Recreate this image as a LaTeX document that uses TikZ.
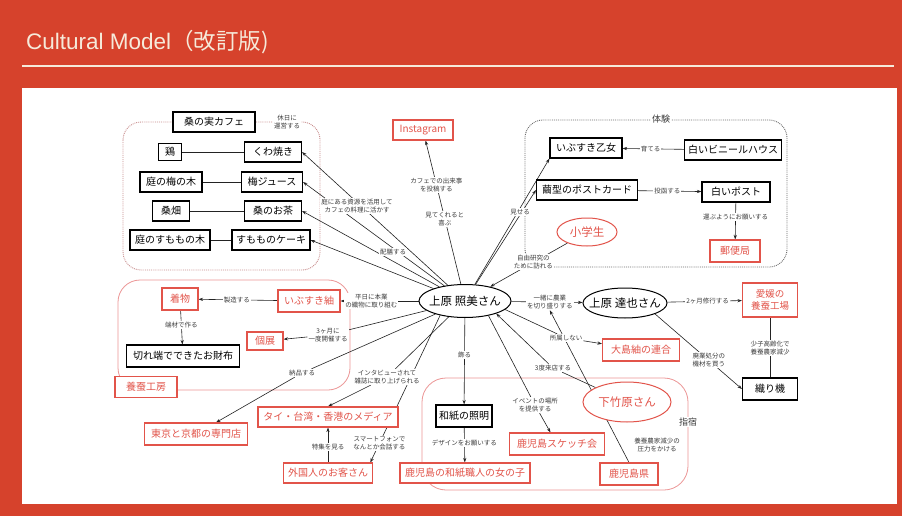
\documentclass[tikz,border=0pt]{standalone}
\usepackage{fontspec}
\setmainfont{Noto Sans CJK JP}
\newfontfamily\titlefont{Liberation Sans}
\usetikzlibrary{arrows.meta,shapes.geometric,calc}
\pgfdeclarelayer{bg}
\pgfdeclarelayer{lines}
\pgfsetlayers{bg,lines,main}
\definecolor{slide}{RGB}{214,66,44}
\definecolor{cream}{RGB}{246,234,218}
\definecolor{redc}{RGB}{226,84,74}
\definecolor{linec}{RGB}{35,35,35}
\definecolor{lblc}{RGB}{60,60,60}
\definecolor{grpgray}{RGB}{110,110,110}
\definecolor{grpcafe}{RGB}{200,140,140}
\definecolor{grppink}{RGB}{236,150,150}

\begin{document}
\begin{tikzpicture}[x=1pt,y=-1pt,
  bbox/.style={draw=black,line width=1.1pt,fill=white,inner xsep=3pt,inner ysep=2pt,minimum height=20pt,font=\fontsize{10}{12}\selectfont},
  rbox/.style={bbox,draw=redc,text=redc},
  oval/.style={ellipse,draw=black,line width=1pt,fill=white,inner sep=0pt},
  roval/.style={oval,draw=redc},
  lbl/.style={fill=white,inner sep=1pt,align=center,text=lblc,font=\fontsize{6.5}{8}\selectfont},
  conn/.style={draw=linec,line width=0.6pt},
  arr/.style={conn,-{Stealth[length=4.5pt,width=3.2pt]}},
  grp/.style={densely dotted,line width=0.9pt,rounded corners=18pt},
  ovaltext/.style={font=\fontsize{11.5}{13}\selectfont},
]
\useasboundingbox (0,0) rectangle (902,516);

% title
\node[anchor=base west,inner sep=0pt,text=cream,font=\fontsize{22.5}{26}\selectfont] (title) at (26,50) {{\titlefont Cultural Model}（改訂版)};

% cafe group
\node[bbox,minimum width=82pt] (cafe) at (214,122) {桑の実カフェ};
\node[bbox,minimum width=23pt,minimum height=17pt] (tori) at (170,152) {鶏};
\node[bbox,minimum width=57pt] (kuwayaki) at (273,152) {くわ焼き};
\node[bbox,minimum width=62pt] (ume) at (171,182) {庭の梅の木};
\node[bbox,minimum width=61pt] (umejuice) at (272,182) {梅ジュース};
\node[bbox,minimum width=37pt] (kuwabatake) at (171,211) {桑畑};
\node[bbox,minimum width=57pt] (kuwacha) at (273,211) {桑のお茶};
\node[bbox,minimum width=80pt] (sumomo) at (170,240) {庭のすももの木};
\node[bbox,minimum width=78pt] (cake) at (271,240) {すもものケーキ};

\node[rbox,minimum width=60pt] (insta) at (423,130) {Instagram};

% people
\node[oval,minimum width=92pt,minimum height=33pt,label={[ovaltext]center:上原 照美さん}] (terumi) at (465,301) {};
\node[oval,minimum width=84pt,minimum height=30pt,label={[ovaltext]center:上原 達也さん}] (tatsuya) at (625,303) {};
\node[roval,minimum width=88pt,minimum height=40pt,label={[ovaltext,text=redc]center:下竹原さん}] (shimo) at (627,402) {};
\node[roval,minimum width=60pt,minimum height=28pt,label={[ovaltext,text=redc]center:小学生}] (shogaku) at (587,232) {};

% experience group
\node[bbox,minimum width=72pt] (otome) at (586,148) {いぶすき乙女};
\node[bbox,minimum width=97pt] (house) at (733,150) {白いビニールハウス};
\node[bbox,minimum width=101pt] (card) at (587,190) {繭型のポストカード};
\node[bbox,minimum width=68pt] (post) at (736,192) {白いポスト};
\node[rbox,minimum width=50pt,minimum height=22pt] (yubin) at (735,251) {郵便局};

% right side
\node[rbox,minimum width=55pt,minimum height=34pt,align=center,font=\fontsize{9.5}{12}\selectfont] (ehime) at (770,300) {愛媛の\\養蚕工場};
\node[bbox,minimum width=55pt,minimum height=22pt] (oriki) at (770,389) {織り機};
\node[rbox,minimum width=77pt,minimum height=22pt] (oshima) at (641,350) {大島紬の連合};

% workshop group
\node[rbox,minimum width=36pt,minimum height=22pt] (kimono) at (180,299) {着物};
\node[rbox,minimum width=62pt,minimum height=22pt] (tsumugi) at (309,301) {いぶすき紬};
\node[bbox,minimum width=113pt,minimum height=22pt] (saifu) at (183,356) {切れ端でできたお財布};
\node[rbox,minimum width=36pt,minimum height=18pt] (koten) at (265,341) {個展};
\node[rbox,minimum width=62pt,minimum height=21pt] (kobo) at (146,387) {養蚕工房};

% lower left
\node[rbox,minimum width=103pt,minimum height=22pt] (senmon) at (196,434) {東京と京都の専門店};
\node[rbox,minimum width=140pt] (media) at (328,417) {タイ・台湾・香港のメディア};
\node[rbox,minimum width=89pt] (okyaku) at (328,473) {外国人のお客さん};

% Ibusuki group
\node[bbox,minimum width=56pt,minimum height=22pt] (washi) at (464,416) {和紙の照明};
\node[rbox,minimum width=130pt] (shokunin) at (465,473) {鹿児島の和紙職人の女の子};
\node[rbox,minimum width=95pt,minimum height=22pt] (sketch) at (557,444) {鹿児島スケッチ会};
\node[rbox,minimum width=58pt,minimum height=22pt] (kenchou) at (629,474) {鹿児島県};

% group titles
\node[lbl,font=\fontsize{9}{10}\selectfont] (taiken) at (661,119) {体験};
\node[lbl,font=\fontsize{9}{10}\selectfont] (ibusuki) at (688,422) {指宿};

% connector labels
\node[lbl] (l_kyujitsu) at (287,122) {休日に\\運営する};
\node[lbl] (l_niwa) at (357,206) {庭にある資源を活用して\\カフェの料理に活かす};
\node[lbl] (l_haizen) at (393,252) {配膳する};
\node[lbl] (l_insta1) at ($(terumi)!0.68!(insta)$) {カフェでの出来事\\を投稿する};
\node[lbl] (l_insta2) at ($(terumi)!0.48!(insta)$) {見てくれると\\喜ぶ};
\node[lbl] (l_miseru) at (520,212) {見せる};
\node[lbl] (l_jiyu) at ($(shogaku)!0.44!(terumi)$) {自由研究の\\ために訪れる};
\node[lbl] (l_sodateru) at ($(house)!0.56!(otome)$) {育てる};
\node[lbl] (l_toukan) at ($(card)!0.54!(post)$) {投函する};
\node[lbl] (l_hakobu) at ($(post)!0.42!(yubin)$) {運ぶようにお願いする};
\node[lbl] (l_issho) at ($(terumi)!0.53!(tatsuya)$) {一緒に農業\\を切り盛りする};
\node[lbl] (l_shugyo) at ($(tatsuya)!0.57!(ehime)$) {2ヶ月修行する};
\node[lbl] (l_shoshi) at ($(ehime)!0.54!(oriki)$) {少子高齢化で\\養蚕農家減少};
\node[lbl] (l_haigyo) at ($(tatsuya.south east)!0.62!(oriki.west)$) {廃業処分の\\機材を買う};
\node[lbl] (l_shozoku) at (566,338) {所属しない};
\node[lbl] (l_sando) at (553,368) {3度来店する};
\node[lbl] (l_event) at (535,405) {イベントの場所\\を提供する};
\node[lbl] (l_atsu) at (657,445) {養蚕農家減少の\\圧力をかける};
\node[lbl] (l_kazaru) at ($(terumi)!0.47!(washi)$) {飾る};
\node[lbl] (l_design) at ($(washi)!0.47!(shokunin)$) {デザインをお願いする};
\node[lbl] (l_heijitsu) at ($(terumi)!0.6!(tsumugi)$) {平日に本業\\の織物に取り組む};
\node[lbl] (l_seizo) at ($(tsumugi)!0.56!(kimono)$) {製造する};
\node[lbl] (l_hazai) at ($(kimono)!0.46!(saifu)$) {端材で作る};
\node[lbl] (l_kaisai) at (328,335) {3ヶ月に\\一度開催する};
\node[lbl] (l_nohin) at (302,373) {納品する};
\node[lbl] (l_interview) at (387,377) {インタビューされて\\雑誌に取り上げられる};
\node[lbl] (l_tokushu) at ($(okyaku.north)!0.45!(media.south)$) {特集を見る};
\node[lbl] (l_smart) at ($(terumi.-150)!0.87!(okyaku.14)$) {スマートフォンで\\なんとか会話する};

% connectors
\begin{pgfonlayer}{lines}
\draw[conn] (tori) -- (kuwayaki);
\draw[conn] (ume) -- (umejuice);
\draw[conn] (kuwabatake) -- (kuwacha);
\draw[conn] (sumomo) -- (cake);
\draw[arr] (terumi) -- (kuwayaki.east);
\draw[arr] (terumi) -- (umejuice.east);
\draw[arr] (terumi) -- (kuwacha.east);
\draw[arr] (terumi) -- (cake.east);
\draw[arr] (terumi) -- (insta);
\draw[arr] (terumi) -- (otome.south west);
\draw[arr] (terumi) -- (card.west);
\draw[arr] (shogaku) -- (terumi);
\draw[arr] (house) -- (otome);
\draw[arr] (card) -- (post);
\draw[arr] (post) -- (yubin);
\draw[arr] (terumi) -- (tatsuya);
\draw[arr] (tatsuya) -- (ehime);
\draw[conn] (ehime) -- (oriki);
\draw[arr] (tatsuya.south east) -- (oriki.west);
\draw[conn] (terumi.-12) -- (l_shozoku);
\draw[arr] (l_shozoku) -- (oshima);
\draw[conn] (shimo) -- (l_sando);
\draw[arr] (l_sando) -- (terumi.-22);
\draw[conn] (terumi.-32) -- (l_event);
\draw[arr] (l_event) -- (sketch);
\draw[arr] (kenchou.north) -- (l_issho.south);
\draw[arr] (terumi) -- (washi);
\draw[arr] (washi) -- (shokunin);
\draw[arr] (terumi) -- (tsumugi);
\draw[arr] (tsumugi) -- (kimono);
\draw[arr] (kimono) -- (saifu);
\draw[conn] (terumi) -- (l_kaisai);
\draw[arr] (l_kaisai) -- (koten);
\draw[conn] (terumi) -- (l_nohin);
\draw[arr] (l_nohin) -- (senmon);
\draw[conn] (terumi) -- (l_interview);
\draw[arr] (l_interview) -- (media.north);
\draw[arr] (terumi.-150) -- (okyaku.14);
\draw[arr] (okyaku.north) -- (media.south);
\end{pgfonlayer}

% slide background, panel and group outlines
\begin{pgfonlayer}{bg}
\fill[slide] (0,0) rectangle (902,516);
\fill[white] (22,88) rectangle (897,504);
\draw[cream,line width=1.6pt] (22,66) -- (894,66);
\draw[grp,draw=grpcafe] (123,122) rectangle (320,270);
\draw[grp,draw=grpgray] (525,120) rectangle (787,267);
\draw[line width=0.8pt,draw=grppink,rounded corners=22pt] (118,280) rectangle (350,390);
\draw[line width=0.8pt,draw=grppink,rounded corners=24pt] (422,378) rectangle (688,490);
\end{pgfonlayer}
\end{tikzpicture}
\end{document}
